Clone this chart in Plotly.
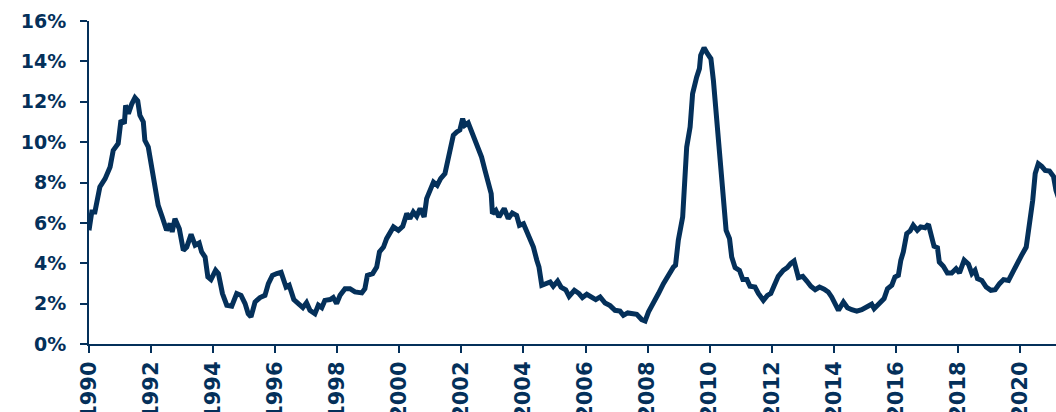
import plotly.graph_objects as go

# Decimal-year positions and values (%)
years = [
    1990.00, 1990.09, 1990.19, 1990.28, 1990.35, 1990.52, 1990.68, 1990.78, 1990.94,
    1991.03, 1991.14, 1991.18, 1991.27, 1991.38, 1991.48, 1991.57, 1991.64, 1991.75,
    1991.80, 1991.91, 1992.02, 1992.13, 1992.23, 1992.36, 1992.50, 1992.61, 1992.68,
    1992.77, 1992.91, 1993.04, 1993.15, 1993.29, 1993.42, 1993.55, 1993.63, 1993.74,
    1993.83, 1993.93, 1994.08, 1994.17, 1994.30, 1994.44, 1994.60, 1994.76, 1994.90,
    1995.03, 1995.13, 1995.22, 1995.35, 1995.51, 1995.67, 1995.78, 1995.91, 1996.05,
    1996.19, 1996.35, 1996.45, 1996.60, 1996.75, 1996.89, 1997.01, 1997.12, 1997.28,
    1997.39, 1997.50, 1997.60, 1997.77, 1997.87, 1997.98, 1998.09, 1998.25, 1998.41,
    1998.57, 1998.79, 1998.89, 1998.97, 1999.14, 1999.27, 1999.36, 1999.49, 1999.59,
    1999.70, 1999.81, 1999.97, 2000.11, 2000.24, 2000.34, 2000.45, 2000.56, 2000.67,
    2000.80, 2000.88, 2000.99, 2001.10, 2001.22, 2001.33, 2001.47, 2001.58, 2001.74,
    2001.85, 2001.95, 2002.04, 2002.11, 2002.22, 2002.33, 2002.49, 2002.60, 2002.65,
    2002.76, 2002.89, 2002.96, 2003.00, 2003.11, 2003.21, 2003.38, 2003.51, 2003.64,
    2003.78, 2003.87, 2004.00, 2004.07, 2004.18, 2004.32, 2004.43, 2004.50, 2004.59,
    2004.72, 2004.86, 2004.96, 2005.10, 2005.21, 2005.36, 2005.47, 2005.64, 2005.79,
    2005.90, 2006.04, 2006.20, 2006.33, 2006.47, 2006.63, 2006.79, 2006.95, 2007.11,
    2007.22, 2007.36, 2007.49, 2007.65, 2007.81, 2007.92, 2008.03, 2008.19, 2008.35,
    2008.51, 2008.67, 2008.83, 2008.90, 2008.99, 2009.13, 2009.21, 2009.26, 2009.37,
    2009.45, 2009.58, 2009.67, 2009.71, 2009.82, 2009.93, 2010.04, 2010.12, 2010.23,
    2010.34, 2010.44, 2010.53, 2010.64, 2010.71, 2010.82, 2010.96, 2011.07, 2011.20,
    2011.30, 2011.46, 2011.57, 2011.73, 2011.86, 2011.97, 2012.07, 2012.21, 2012.37,
    2012.50, 2012.61, 2012.72, 2012.86, 2013.00, 2013.13, 2013.26, 2013.40, 2013.54,
    2013.69, 2013.82, 2013.93, 2014.04, 2014.15, 2014.31, 2014.44, 2014.58, 2014.74,
    2014.90, 2015.06, 2015.22, 2015.30, 2015.44, 2015.62, 2015.73, 2015.87, 2015.97,
    2016.08, 2016.16, 2016.24, 2016.35, 2016.46, 2016.56, 2016.69, 2016.80, 2016.94,
    2017.05, 2017.16, 2017.23, 2017.34, 2017.40, 2017.53, 2017.66, 2017.80, 2017.94,
    2018.05, 2018.20, 2018.34, 2018.45, 2018.55, 2018.63, 2018.77, 2018.91, 2019.06,
    2019.20, 2019.34, 2019.47, 2019.63, 2019.77, 2019.90, 2020.05, 2020.20, 2020.30,
    2020.41, 2020.49, 2020.59, 2020.70, 2020.81, 2020.95, 2021.08, 2021.16, 2021.25,
]

rate = [
    5.63, 6.54, 6.54, 7.45, 7.78, 8.19, 8.77, 9.59, 9.93,
    11.08, 10.92, 11.82, 11.41, 11.90, 12.20, 12.04, 11.33, 11.00,
    10.09, 9.76, 8.77, 7.94, 6.87, 6.29, 5.63, 5.96, 5.55,
    6.21, 5.71, 4.64, 4.80, 5.43, 4.89, 5.00, 4.56, 4.31,
    3.32, 3.19, 3.65, 3.49, 2.50, 1.92, 1.87, 2.50, 2.41,
    2.00, 1.50, 1.34, 2.08, 2.30, 2.41, 2.99, 3.40, 3.49,
    3.55, 2.82, 2.91, 2.20, 2.00, 1.80, 2.05, 1.67, 1.50,
    1.92, 1.80, 2.16, 2.20, 2.30, 2.00, 2.41, 2.74, 2.74,
    2.58, 2.53, 2.74, 3.40, 3.49, 3.81, 4.56, 4.80, 5.22,
    5.47, 5.80, 5.63, 5.83, 6.46, 6.21, 6.54, 6.33, 6.71,
    6.29, 7.20, 7.70, 8.02, 7.86, 8.19, 8.44, 9.26, 10.34,
    10.50, 10.60, 11.16, 10.83, 10.95, 10.50, 10.00, 9.40, 9.26,
    8.60, 7.86, 7.45, 6.46, 6.62, 6.29, 6.71, 6.21, 6.49,
    6.37, 5.88, 5.96, 5.71, 5.22, 4.80, 4.15, 3.81, 2.91,
    2.96, 3.07, 2.86, 3.12, 2.82, 2.69, 2.36, 2.66, 2.50,
    2.30, 2.46, 2.30, 2.20, 2.33, 2.03, 1.90, 1.67, 1.63,
    1.42, 1.54, 1.50, 1.47, 1.21, 1.14, 1.59, 2.00, 2.50,
    2.99, 3.45, 3.81, 3.90, 5.14, 6.29, 8.27, 9.76, 10.75,
    12.40, 13.22, 13.64, 14.30, 14.68, 14.38, 14.13, 13.06, 11.08,
    8.93, 6.62, 5.63, 5.22, 4.31, 3.78, 3.65, 3.19, 3.19,
    2.86, 2.82, 2.50, 2.16, 2.41, 2.50, 2.86, 3.35, 3.65,
    3.78, 3.98, 4.11, 3.29, 3.35, 3.12, 2.86, 2.69, 2.82,
    2.72, 2.58, 2.33, 1.92, 1.67, 2.08, 1.80, 1.70, 1.63,
    1.70, 1.87, 1.97, 1.75, 2.00, 2.25, 2.74, 2.91, 3.32,
    3.40, 4.15, 4.56, 5.47, 5.60, 5.88, 5.63, 5.80, 5.76,
    5.93, 5.30, 4.84, 4.77, 4.06, 3.85, 3.52, 3.52, 3.73,
    3.52, 4.15, 3.95, 3.49, 3.65, 3.24, 3.15, 2.82, 2.66,
    2.69, 2.99, 3.19, 3.15, 3.57, 4.06, 4.39, 4.80, 5.80,
    7.12, 8.44, 8.93, 8.80, 8.60, 8.57, 8.30, 7.61, 7.20,
]

x_ticks = list(range(1990, 2021, 2))
y_ticks = [0, 2, 4, 6, 8, 10, 12, 14, 16]

NAVY = "#04305a"

fig = go.Figure()
fig.add_trace(go.Scatter(
    x=years, y=rate, mode="lines",
    line=dict(color=NAVY, width=5),
    hoverinfo="skip", showlegend=False,
))

fig.update_layout(
    width=1056, height=412,
    margin=dict(l=89, r=0, t=21, b=68),
    paper_bgcolor="white", plot_bgcolor="white",
    font=dict(family="DejaVu Sans", color=NAVY),
    showlegend=False,
)

fig.update_xaxes(
    range=[1990, 2021.16],
    tickvals=x_ticks, ticktext=[str(v) for v in x_ticks],
    tickangle=-90,
    tickfont=dict(family="DejaVu Sans", size=21, color=NAVY, weight="bold"),
    showgrid=False, zeroline=False,
    showline=True, linecolor=NAVY, linewidth=2,
    ticks="outside", ticklen=7, tickwidth=2, tickcolor=NAVY,
    ticklabelstandoff=0,
    automargin=False,
)

fig.update_yaxes(
    range=[0, 16],
    tickvals=y_ticks, ticktext=[f"{v}%" for v in y_ticks],
    tickfont=dict(family="DejaVu Sans", size=19, color=NAVY, weight="bold"),
    showgrid=False, zeroline=False,
    showline=True, linecolor=NAVY, linewidth=2,
    ticks="outside", ticklen=7, tickwidth=2, tickcolor=NAVY,
    ticklabelstandoff=10,
    automargin=False,
)

fig.write_html(
    "out.html",
    config={"displayModeBar": False},
    post_script="document.body.style.margin='0';document.body.style.overflow='hidden';",
)
